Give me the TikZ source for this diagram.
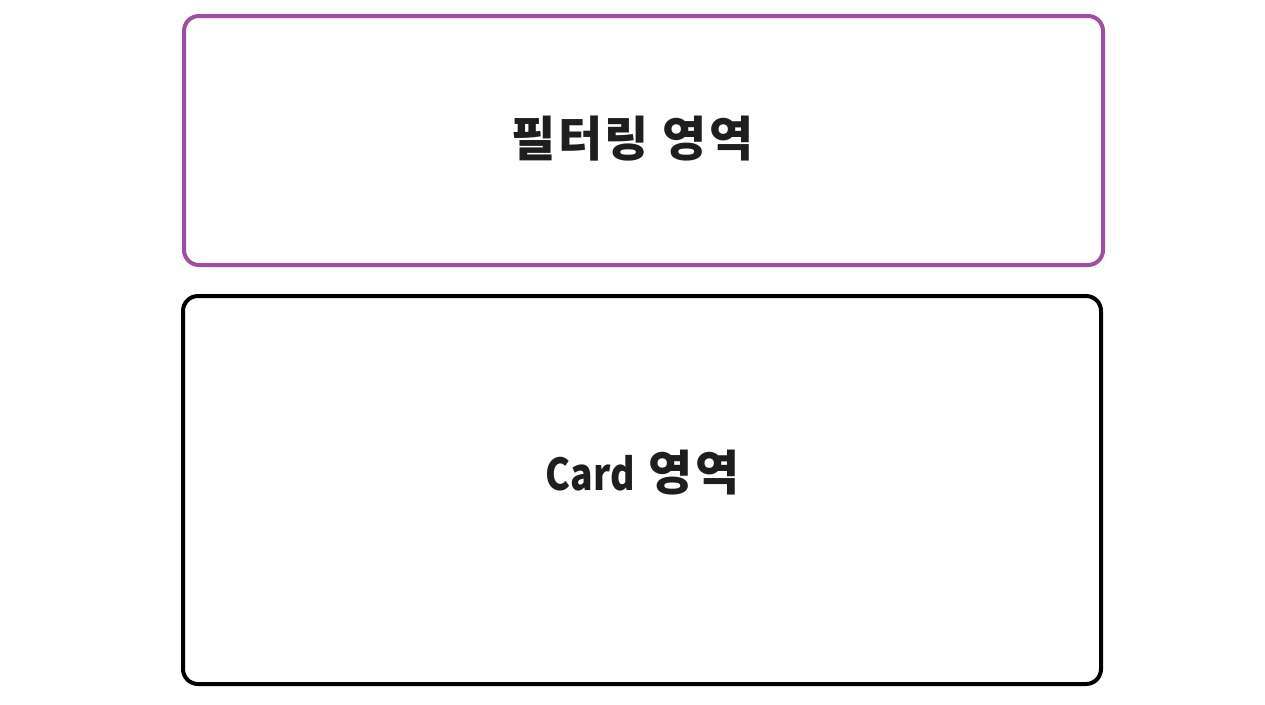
\documentclass[tikz,border=0pt]{standalone}
\usepackage{fontspec}
\setmainfont{Noto Sans CJK KR}
\newfontfamily\koreanspaced[LetterSpace=5.4]{Noto Sans CJK KR}
\newfontfamily\narrowlatin[FakeStretch=0.85]{Noto Sans CJK KR}
\definecolor{filterpurple}{HTML}{A34CA4}
\definecolor{txtdark}{HTML}{1E1E1E}
\begin{document}
\begin{tikzpicture}[x=1pt,y=-1pt,
  areabox/.style={line width=4pt,rounded corners=15pt},
  arealabel/.style={font=\koreanspaced\fontsize{48}{54}\selectfont\bfseries,text=txtdark,inner sep=0pt}]
\useasboundingbox (0,0) rectangle (1265,704);
\draw[areabox,draw=filterpurple] (184,16) rectangle (1103,265);
\draw[areabox,draw=black] (183,296) rectangle (1101,684);
\node[arealabel] (filt) at (632.5,139) {필터링 영역};
\node[arealabel] (card) at (642.5,473) {{\narrowlatin\fontsize{44}{50}\selectfont\bfseries Card} 영역};
\end{tikzpicture}
\end{document}
